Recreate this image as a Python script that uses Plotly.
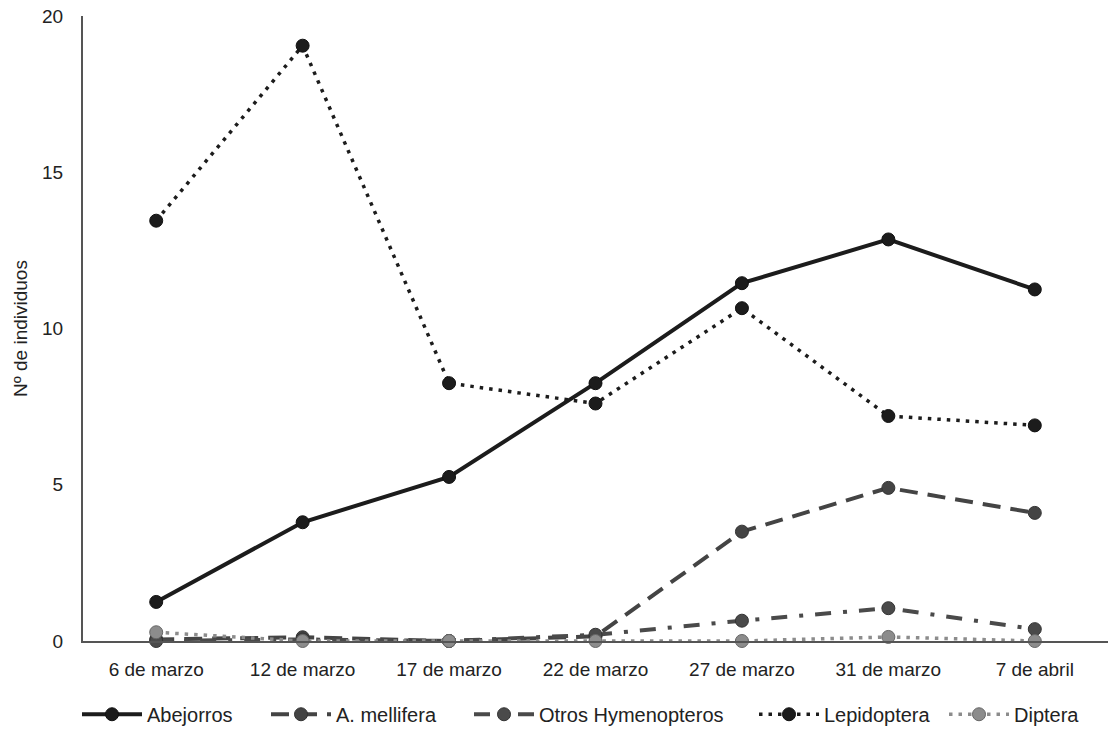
import plotly.graph_objects as go

fechas = ["6 de marzo", "12 de marzo", "17 de marzo", "22 de marzo", "27 de marzo", "31 de marzo", "7 de abril"]
abejorros = [1.25, 3.8, 5.25, 8.25, 11.45, 12.85, 11.25]
mellifera = [0.05, 0.12, 0.0, 0.15, 3.5, 4.9, 4.1]
otros_hym = [0.0, 0.05, 0.0, 0.2, 0.65, 1.05, 0.38]
lepidoptera = [13.45, 19.05, 8.25, 7.6, 10.65, 7.2, 6.9]
diptera = [0.28, 0.0, 0.0, 0.0, 0.0, 0.13, 0.0]

series = [
    ("Abejorros", abejorros, "#1c1c1c", "solid", 4, "#111111"),
    ("A. mellifera", mellifera, "#444444", "18px,10px", 4, "#333333"),
    ("Otros Hymenopteros", otros_hym, "#4a4a4a", "16px,12px,4px,12px", 4, "#333333"),
    ("Lepidoptera", lepidoptera, "#1c1c1c", "3.5px,6px", 3.5, "#111111"),
    ("Diptera", diptera, "#8c8c8c", "3.5px,6px", 3.5, "#666666"),
]
# legend symbol left positions (pixels)
legend_px = [83, 272, 475, 760, 950]
plot_left, plot_w = 83, 1025

fig = go.Figure()
legend_layouts = {}
for i, ((name, vals, color, dash, w, mline), lx) in enumerate(zip(series, legend_px)):
    lname = "legend" if i == 0 else f"legend{i+1}"
    fig.add_trace(go.Scatter(
        x=fechas, y=vals, name=name, mode="lines+markers",
        line=dict(color=color, width=w, dash=dash),
        marker=dict(size=13, color=color, line=dict(color=mline, width=1)),
        cliponaxis=False, legend=lname,
    ))
    legend_layouts[lname] = dict(
        orientation="h", x=(lx - 6 - plot_left) / plot_w, xanchor="left",
        y=-0.086, yanchor="top", bgcolor="rgba(0,0,0,0)",
        font=dict(family="Liberation Sans Narrow, Liberation Sans, Arial", size=20),
        itemwidth=60,
    )

fig.update_layout(
    width=1108, height=753,
    margin=dict(l=83, r=0, t=16, b=112, autoexpand=False),
    paper_bgcolor="white", plot_bgcolor="white",
    font=dict(family="Liberation Sans, Arial, sans-serif", size=19, color="#222222"),
    showlegend=True,
    xaxis=dict(type="category", range=[-0.5, 6.5], showgrid=False, zeroline=False,
               showline=True, linecolor="#555555", linewidth=2, ticks="", automargin=False,
               tickfont=dict(size=19), ticklabelstandoff=10, ticklabeloverflow="allow"),
    yaxis=dict(range=[0, 20], tickvals=[0, 5, 10, 15, 20], showgrid=False, zeroline=False,
               showline=True, linecolor="#555555", linewidth=2, ticks="", automargin=False,
               tickfont=dict(size=19), ticklabelstandoff=14, ticklabeloverflow="allow",
               title=dict(text="Nº de individuos", standoff=9,
                          font=dict(family="Liberation Sans Narrow, Liberation Sans, Arial", size=19))),
    **legend_layouts,
)

fig.write_html("out.html", config={"displayModeBar": False},
               post_script="document.body.style.margin='0';document.body.style.overflow='hidden';")
